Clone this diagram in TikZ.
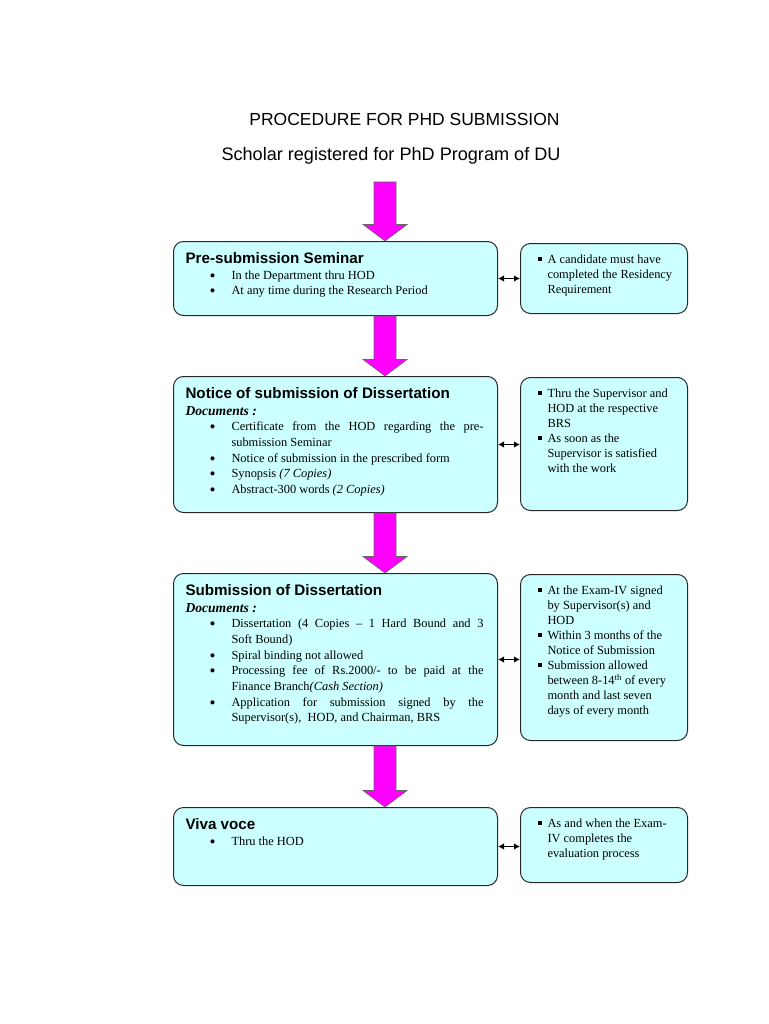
\documentclass[tikz,border=0pt]{standalone}
\usepackage{fontspec}
\setmainfont{Liberation Serif}
\setsansfont{Liberation Sans}
\usetikzlibrary{positioning, calc, arrows.meta}
\definecolor{boxcyan}{RGB}{204,255,255}
\definecolor{boxline}{RGB}{40,40,40}
\definecolor{arrowpink}{RGB}{255,0,255}
\tikzset{
x=1pt, y=-1pt, % one unit is one pixel of the page, y runs down
heading/.style={font=\sffamily\fontsize{17.5}{20}\selectfont, inner sep=0pt, anchor=base},
stage/.style={draw=boxline, fill=boxcyan, rounded corners=10pt, line width=1pt,
  inner xsep=12pt, inner ysep=11pt, anchor=north west}, % left column boxes
note/.style={stage, inner xsep=10pt, inner ysep=11.5pt}, % boxes on the right
fatarrow/.style={draw=black!60, fill=arrowpink, line width=0.6pt},
link/.style={{Latex[length=6pt,width=6.5pt]}-{Latex[length=6pt,width=6.5pt]}, line width=1.3pt},
}
% text of the boxes
\newcommand\stagebody[2]{\parbox[c][#1][t]{300pt}{\fontsize{12.4}{15.7}\selectfont\hyphenpenalty=10000 #2}}
\newcommand\notebody[2]{\parbox[c][#1][t]{147pt}{\fontsize{12.4}{15}\selectfont\raggedright #2}}
\newcommand\stagetitle[1]{{\sffamily\bfseries\fontsize{15.2}{17}\selectfont #1\par}}
\newcommand\doclabel{{\bfseries\itshape\fontsize{13.6}{16.5}\selectfont Documents :\par}}
\newcommand\dotitem[1]{\par{\leftskip=46pt\rightskip=2pt\noindent\llap{\raisebox{-2pt}{\fontsize{17}{12}\selectfont\textbullet}\hspace{16pt}}#1\par}}
\newcommand\sqitem[1]{\par{\leftskip=17pt\noindent\llap{\raisebox{2.5pt}{\rule{3.8pt}{3.8pt}}\hspace{5.5pt}}#1\par}}
% big magenta arrow from one node down to the next
\newcommand\fatarrow[2]{\draw[fatarrow] ($(#1 -| col)+(-11,0)$) -- ($(#2 -| col)+(-11,-16.5)$)
  -- ($(#2 -| col)+(-22,-16.5)$) -- (#2 -| col) -- ($(#2 -| col)+(22,-16.5)$)
  -- ($(#2 -| col)+(11,-16.5)$) -- ($(#1 -| col)+(11,0)$) -- cycle;}
\begin{document}
\begin{tikzpicture}
\fill[white] (0,0) rectangle (768,1024);
\node[heading] (title) at (404.5,126) {PROCEDURE FOR PHD SUBMISSION};
\node[heading, font=\sffamily\fontsize{18.1}{22}\selectfont] (scholar) at (391,161) {Scholar registered for PhD Program of DU};
\coordinate (col) at (385,182);

\node[stage] (seminar) at (173,241) {\stagebody{52pt}{%
  \stagetitle{Pre-submission Seminar}
  \dotitem{In the Department thru HOD}
  \dotitem{At any time during the Research Period}}};
\node[stage, below=60pt of seminar.south west, anchor=north west] (notice) {\stagebody{114pt}{%
  \stagetitle{Notice of submission of Dissertation}
  \doclabel
  \dotitem{Certificate from the HOD regarding the pre-\linebreak submission Seminar}
  \dotitem{Notice of submission in the prescribed form}
  \dotitem{Synopsis \textit{(7 Copies)}}
  \dotitem{Abstract-300 words \textit{(2 Copies)}}}};
\node[stage, below=60pt of notice.south west, anchor=north west] (submission) {\stagebody{150pt}{%
  \stagetitle{Submission of Dissertation}
  \doclabel
  \dotitem{Dissertation (4 Copies – 1 Hard Bound and 3\linebreak Soft Bound)}
  \dotitem{Spiral binding not allowed}
  \dotitem{Processing fee of Rs.2000/- to be paid at the\linebreak Finance Branch\textit{(Cash Section)}}
  \dotitem{Application for submission signed by the\linebreak Supervisor(s),~ HOD, and Chairman, BRS}}};
\node[stage, below=61pt of submission.south west, anchor=north west] (viva) {\stagebody{56pt}{%
  \stagetitle{Viva voce}
  \dotitem{Thru the HOD}}};

\node[note, right=22pt of seminar.north east, anchor=north west, yshift=-2pt] (residency) {\notebody{47pt}{%
  \sqitem{A candidate must have\newline completed the Residency\newline Requirement}}};
\node[note, right=22pt of notice.north east, anchor=north west, yshift=-1pt] (supervisor) {\notebody{110pt}{%
  \sqitem{Thru the Supervisor and\newline HOD at the respective\newline BRS}
  \sqitem{As soon as the\newline Supervisor is satisfied\newline with the work}}};
\node[note, right=22pt of submission.north east, anchor=north west, yshift=-1pt] (exam) {\notebody{143pt}{%
  \sqitem{At the Exam-IV signed\newline by Supervisor(s) and\newline HOD}
  \sqitem{Within 3 months of the\newline Notice of Submission}
  \sqitem{Submission allowed\newline between 8-14\textsuperscript{th} of every\newline month and last seven\newline days of every month}}};
\node[note, right=22pt of viva.north east, anchor=north west] (evaluation) {\notebody{52pt}{%
  \sqitem{As and when the Exam-\newline IV completes the\newline evaluation process}}};

\fatarrow{col}{seminar.north}
\fatarrow{seminar.south}{notice.north}
\fatarrow{notice.south}{submission.north}
\fatarrow{submission.south}{viva.north}

\draw[link] (seminar.east) -- (seminar.east -| residency.west);
\draw[link] (notice.east) -- (notice.east -| supervisor.west);
\draw[link] (submission.east) -- (submission.east -| exam.west);
\draw[link] (viva.east) -- (viva.east -| evaluation.west);
\end{tikzpicture}
\end{document}
